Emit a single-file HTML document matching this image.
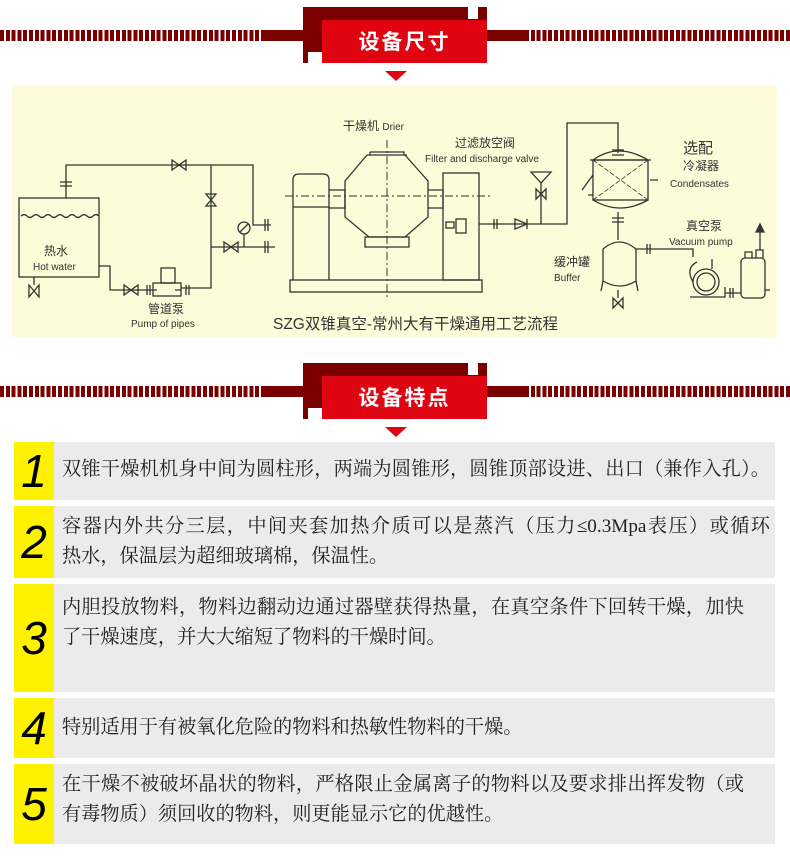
<!DOCTYPE html>
<html><head><meta charset="utf-8">
<style>
*{margin:0;padding:0;box-sizing:border-box}
body{width:790px;height:868px;background:#fff;position:relative;overflow:hidden;font-family:"Liberation Sans","Noto Sans CJK SC",sans-serif}
.stripe{position:absolute;height:11px;background:repeating-linear-gradient(90deg,#7a0000 0 4px,#fff 4px 5.8px)}
.solid{position:absolute;height:11px;background:#7a0000}
.dark{position:absolute;background:#7a0000}
.red{position:absolute;background:#e00412;color:#fff;font-family:"Noto Sans CJK SC",sans-serif;font-weight:bold;font-size:21px;text-align:center;letter-spacing:2px}
.wsq{position:absolute;background:#fff}
.tri{position:absolute;width:0;height:0;border-left:11px solid transparent;border-right:11px solid transparent;border-top:10px solid #e00412}
.row{position:absolute;left:14px;width:761px;background:#ebebeb}
.num{position:absolute;left:0;top:0;bottom:0;width:40px;background:#fff200;font-family:"Liberation Sans",sans-serif;font-style:italic;font-size:46px;color:#000;display:flex;align-items:center;justify-content:center}
.txt{position:absolute;left:48px;font-family:"Liberation Serif","Noto Serif CJK SC",serif;font-size:19.2px;line-height:30px;color:#222;white-space:nowrap}
.j{display:block;text-align:justify;text-align-last:justify;text-justify:inter-character;white-space:normal}
</style></head><body>

<div class="stripe" style="left:0;top:30px;width:262px"></div>
<div class="solid" style="left:262px;top:30px;width:45px"></div>
<div class="solid" style="left:485px;top:30px;width:40px"></div>
<div class="stripe" style="left:525px;top:30px;width:265px"></div>
<div class="dark" style="left:303px;top:7px;width:184px;height:56px"></div>
<div class="wsq" style="left:468px;top:7px;width:10px;height:12px"></div>
<div class="wsq" style="left:308px;top:52px;width:14px;height:11px"></div>
<div class="red" style="left:322px;top:20px;width:165px;height:43px;line-height:43px">设备尺寸</div>
<div class="tri" style="left:385px;top:71px"></div>

<svg style="position:absolute;left:0;top:0" width="790" height="340" viewBox="0 0 790 340">
<rect x="12" y="85" width="765" height="252" fill="#fdfbd8"/>
<g fill="none" stroke="#333" stroke-width="1.3">
<rect x="19" y="198" width="80" height="79"/>
<path d="M21 216 q3 -3 6 0 t6 0 t6 0 t6 0 t6 0 t6 0 t6 0 t6 0 t6 0 t6 0 t6 0 t6 0 t6 0"/>
<path d="M34 277 v8"/>
<path d="M29 285 l10 12 v-12 l-10 12z"/>
<path d="M66 198 v-33 h187 v60 h18"/>
<path d="M60 182 h12 M60 186 h12"/>
<path d="M172 160 v10 l14 -10 v10 z"/>
<path d="M211 165 v123 h-30"/>
<path d="M206 194 l10 0 l-10 12 h10 z"/>
<path d="M211 247 h64"/>
<path d="M224 242 v10 l14 -10 v10 z"/>
<circle cx="244" cy="228" r="6"/><path d="M240 232 l8 -8 M244 234 v13"/>
<path d="M265 219 v12 M268 219 v12 M265 241 v12 M268 241 v12"/>
<path d="M99 266 h11 v24 h47 M181 290 h-6"/>
<path d="M124 285 v10 l14 -10 v10 z"/>
<rect x="153" y="283" width="28" height="13"/><rect x="161" y="268" width="14" height="15"/>
<path d="M147 285 v10 M150 285 v10 M186 285 v10 M189 285 v10"/>
<rect x="290" y="280" width="192" height="12"/>
<path d="M293 280 v-100 q0 -6 6 -6 h24 q6 0 6 6 v100"/>
<path d="M293 207 h36"/>
<rect x="443" y="173" width="36" height="107"/>
<rect x="446" y="222" width="8" height="6"/><rect x="456" y="219" width="10" height="14"/>
<path d="M329 190 h16 v18 h-16 M428 190 h15 v18 h-15"/>
<path d="M367 155 h40 M370 152 h34 v3 M370 152 v3"/>
<path d="M367 155 l-22 26 v36 l24 20 h36 l23 -20 v-36 l-23 -26"/>
<path d="M365 237 h44 v10 h-44z"/>
<path d="M387 140 v160 M285 196 h205" stroke-dasharray="8 3 2 3" stroke-width="1"/>
<path d="M479 224 h88 v-101 h51 v30"/>
<path d="M494 219 v10 M497 219 v10"/>
<path d="M515 219 v10 l12 -5 z M527 219 v10"/>
<path d="M541 224 v-42 M531 172 h20 l-10 11 z M536 189 v10 l10 -10 v10z"/>
<path d="M612 150 h12 M612 155 h12"/>
<path d="M593 160 q25 -18 55 0 M590 160 h61"/>
<rect x="593" y="160" width="55" height="40"/>
<path d="M593 160 l55 40 M648 160 l-55 40" stroke-dasharray="5 2" stroke-width="0.8"/>
<path d="M593 200 q27 16 55 0"/>
<path d="M582 190 l11 -15 M650 180 h8 M588 195 h5"/>
<path d="M618 212 v28 M612 218 h12 M612 222 h12"/>
<path d="M603 249 q16 -14 33 0 v32 q-16 10 -33 0z"/>
<path d="M603 281 l-2 10 M636 281 l2 10"/>
<path d="M618 290 v8 M613 298 l10 10 v-10 l-10 10z"/>
<path d="M636 249 h57 v8 M647 244 v10 M650 244 v10"/>
<circle cx="706" cy="282" r="13"/><circle cx="706" cy="282" r="9"/>
<path d="M693 282 q-8 -14 4 -20 M712 269 v-10 M690 297 h35 v-10 M725 293 h16"/>
<rect x="741" y="258" width="24" height="40" rx="4"/>
<path d="M745 258 v-6 h7 v6 M756 258 v-8 h7 v8 M760 250 v-20"/>
<path d="M756 232 l4 -8 l4 8z" fill="#333"/>
<path d="M730 288 v10 M733 288 v10 M765 290 h5"/>
</g>
<g font-family="'Liberation Sans','Noto Sans CJK SC',sans-serif" fill="#333">
<text x="343" y="130" font-size="12">干燥机 <tspan font-size="10">Drier</tspan></text>
<text x="455" y="147" font-size="12">过滤放空阀</text>
<text x="425" y="162" font-size="10">Filter and discharge valve</text>
<text x="683" y="153" font-size="15">选配</text>
<text x="683" y="170" font-size="12">冷凝器</text>
<text x="670" y="187" font-size="10">Condensates</text>
<text x="686" y="230" font-size="12">真空泵</text>
<text x="669" y="245" font-size="10">Vacuum pump</text>
<text x="554" y="266" font-size="12">缓冲罐</text>
<text x="554" y="281" font-size="10">Buffer</text>
<text x="44" y="255" font-size="12">热水</text>
<text x="33" y="270" font-size="10">Hot water</text>
<text x="148" y="313" font-size="12">管道泵</text>
<text x="131" y="327" font-size="10">Pump of pipes</text>
<text x="273" y="329" font-size="15.5">SZG双锥真空-常州大有干燥通用工艺流程</text>
</g>
</svg>

<div class="stripe" style="left:0;top:386px;width:262px"></div>
<div class="solid" style="left:262px;top:386px;width:45px"></div>
<div class="solid" style="left:485px;top:386px;width:40px"></div>
<div class="stripe" style="left:525px;top:386px;width:265px"></div>
<div class="dark" style="left:303px;top:363px;width:184px;height:56px"></div>
<div class="wsq" style="left:468px;top:363px;width:10px;height:12px"></div>
<div class="wsq" style="left:308px;top:408px;width:14px;height:11px"></div>
<div class="red" style="left:322px;top:376px;width:165px;height:43px;line-height:43px">设备特点</div>
<div class="tri" style="left:385px;top:427px"></div>

<div class="row" style="top:442px;height:58px"><div class="num">1</div><div class="txt" style="top:13px"><span class="j" style="width:708px">双锥干燥机机身中间为圆柱形，两端为圆锥形，圆锥顶部设进、出口（兼作入孔）。</span></div></div>
<div class="row" style="top:506px;height:72px"><div class="num">2</div><div class="txt" style="top:6px"><span class="j" style="width:708px">容器内外共分三层，中间夹套加热介质可以是蒸汽（压力≤0.3Mpa表压）或循环</span>热水，保温层为超细玻璃棉，保温性。</div></div>
<div class="row" style="top:584px;height:108px"><div class="num">3</div><div class="txt" style="top:9px"><span class="j" style="width:682px">内胆投放物料，物料边翻动边通过器壁获得热量，在真空条件下回转干燥，加快</span>了干燥速度，并大大缩短了物料的干燥时间。</div></div>
<div class="row" style="top:698px;height:60px"><div class="num">4</div><div class="txt" style="top:15px">特别适用于有被氧化危险的物料和热敏性物料的干燥。</div></div>
<div class="row" style="top:764px;height:80px"><div class="num">5</div><div class="txt" style="top:6px"><span class="j" style="width:682px">在干燥不被破坏晶状的物料，严格限止金属离子的物料以及要求排出挥发物（或</span>有毒物质）须回收的物料，则更能显示它的优越性。</div></div>
</body></html>
